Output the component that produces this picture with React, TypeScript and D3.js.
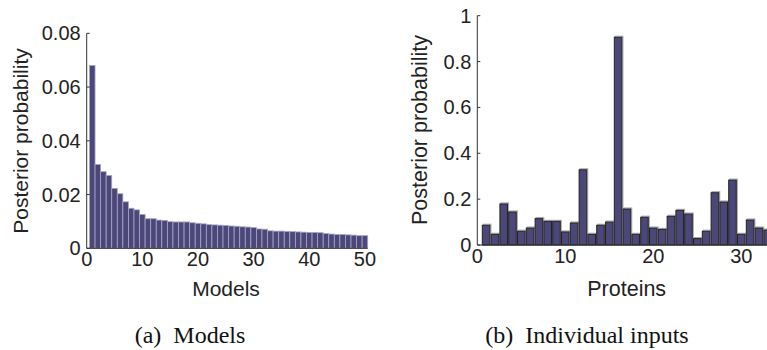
import React, { useRef, useEffect } from "react";
import * as d3 from "d3";

// (a) posterior probability of the top 50 models
const modelIds = d3.range(1, 51);
const modelProb = [
  0.068, 0.0312, 0.0285, 0.0271, 0.0223, 0.0203, 0.0173, 0.0149, 0.0143, 0.0126,
  0.011, 0.011, 0.0105, 0.0104, 0.0099, 0.0098, 0.0098, 0.0098, 0.0095, 0.0093,
  0.0091, 0.0088, 0.0087, 0.0086, 0.0085, 0.0083, 0.0082, 0.008, 0.0079, 0.0077,
  0.0072, 0.0071, 0.0065, 0.0064, 0.0064, 0.0063, 0.0062, 0.0061, 0.006, 0.0059,
  0.0059, 0.0058, 0.0055, 0.0053, 0.0051, 0.0051, 0.005, 0.0049, 0.0047, 0.0047,
];
const modelXTicks = [0, 10, 20, 30, 40, 50];
const modelYTicks = [0, 0.02, 0.04, 0.06, 0.08];

// (b) posterior inclusion probability per protein
const proteinIds = d3.range(1, 34);
const proteinProb = [
  0.086, 0.0465, 0.179, 0.144, 0.06, 0.074, 0.115, 0.103, 0.103, 0.057,
  0.096, 0.328, 0.0465, 0.086, 0.1, 0.906, 0.157, 0.0465, 0.121, 0.074,
  0.068, 0.125, 0.151, 0.135, 0.028, 0.06, 0.228, 0.1875, 0.283, 0.0465,
  0.109, 0.074, 0.065,
];
const proteinXTicks = [0, 10, 20, 30];
const proteinYTicks = [0, 0.2, 0.4, 0.6, 0.8, 1];

const SANS = "'Liberation Sans', Arial, sans-serif";
const SERIF = "'Liberation Serif', 'Times New Roman', serif";
const BAR = "#4b4778";

const App = () => {
  const ref = useRef<SVGSVGElement>(null);

  useEffect(() => {
    const svg = d3.select(ref.current);
    svg.selectAll("*").remove();

    const drawAxes = (g, x, y, xTicks, yTicks, yFmt) => {
      const [x0, x1] = x.range();
      const [y0, y1] = y.range();
      // ticks pointing inward, like matlab
      g.append("g")
        .selectAll("line")
        .data(yTicks)
        .join("line")
        .attr("x1", x0)
        .attr("x2", x0 + 3)
        .attr("y1", (d) => y(d))
        .attr("y2", (d) => y(d))
        .attr("stroke", "#333");
      g.append("g")
        .attr("font-family", SANS)
        .attr("font-size", 20)
        .attr("fill", "#222")
        .attr("text-anchor", "end")
        .selectAll("text")
        .data(yTicks)
        .join("text")
        .attr("x", x0 - 6)
        .attr("y", (d) => y(d) + 7)
        .text(yFmt);
      g.append("g")
        .attr("font-family", SANS)
        .attr("font-size", 20)
        .attr("fill", "#222")
        .attr("text-anchor", "middle")
        .selectAll("text")
        .data(xTicks)
        .join("text")
        .attr("x", (d) => x(d))
        .attr("y", y0 + 18)
        .text((d) => d);
      g.append("line")
        .attr("x1", x0)
        .attr("x2", x0)
        .attr("y1", y0)
        .attr("y2", y1)
        .attr("stroke", "#333");
      g.append("line")
        .attr("x1", x0)
        .attr("x2", x1)
        .attr("y1", y0)
        .attr("y2", y0)
        .attr("stroke", "#333");
    };

    // ---- (a) Models
    const xa = d3.scaleLinear().domain([0, 50.5]).range([86.7, 367.7]);
    const ya = d3.scaleLinear().domain([0, 0.08]).range([248.3, 33.3]);
    const ga = svg.append("g");
    ga.append("g")
      .selectAll("rect")
      .data(modelProb)
      .join("rect")
      .attr("x", (d, i) => xa(modelIds[i] - 0.5))
      .attr("width", xa(1) - xa(0))
      .attr("y", (d) => ya(d))
      .attr("height", (d) => ya(0) - ya(d))
      .attr("fill", BAR)
      .attr("stroke", "#aaa4c8")
      .attr("stroke-width", 0.8);
    drawAxes(ga, xa, ya, modelXTicks, modelYTicks, (d) => (d === 0 ? "0" : d.toFixed(2)));
    ga.append("text")
      .attr("transform", `translate(28,141) rotate(-90)`)
      .attr("text-anchor", "middle")
      .attr("font-family", SANS)
      .attr("font-size", 21)
      .attr("fill", "#222")
      .text("Posterior probability");
    ga.append("text")
      .attr("x", 226)
      .attr("y", 296)
      .attr("text-anchor", "middle")
      .attr("font-family", SANS)
      .attr("font-size", 21)
      .attr("fill", "#222")
      .text("Models");

    // ---- (b) Individual inputs
    const xb = d3.scaleLinear().domain([0, 35]).range([477.3, 477.3 + 35 * 8.8]);
    const yb = d3.scaleLinear().domain([0, 1]).range([245, 15.7]);
    const gb = svg.append("g");
    const bw = (xb(1) - xb(0)) * 0.86;
    // light shadow behind each bar
    gb.append("g")
      .selectAll("rect")
      .data(proteinProb)
      .join("rect")
      .attr("x", (d, i) => xb(proteinIds[i]) - bw / 2 + 1)
      .attr("width", bw)
      .attr("y", (d) => yb(d) - 1)
      .attr("height", (d) => yb(0) - yb(d) + 1)
      .attr("fill", "none")
      .attr("stroke", "#aaa")
      .attr("stroke-width", 1.2);
    gb.append("g")
      .selectAll("rect")
      .data(proteinProb)
      .join("rect")
      .attr("x", (d, i) => xb(proteinIds[i]) - bw / 2)
      .attr("width", bw)
      .attr("y", (d) => yb(d))
      .attr("height", (d) => yb(0) - yb(d))
      .attr("fill", BAR)
      .attr("stroke", "#222")
      .attr("stroke-width", 1);
    drawAxes(gb, xb, yb, proteinXTicks, proteinYTicks, (d) => String(d));
    gb.append("text")
      .attr("transform", `translate(427,130) rotate(-90)`)
      .attr("text-anchor", "middle")
      .attr("font-family", SANS)
      .attr("font-size", 21.5)
      .attr("fill", "#222")
      .text("Posterior probability");
    gb.append("text")
      .attr("x", 626.7)
      .attr("y", 296)
      .attr("text-anchor", "middle")
      .attr("font-family", SANS)
      .attr("font-size", 21.5)
      .attr("fill", "#222")
      .text("Proteins");

    // captions
    svg.append("text")
      .attr("x", 190)
      .attr("y", 343)
      .attr("text-anchor", "middle")
      .attr("font-family", SERIF)
      .attr("font-size", 24)
      .attr("fill", "#111")
      .attr("xml:space", "preserve")
      .text("(a)  Models");
    svg.append("text")
      .attr("x", 587)
      .attr("y", 343)
      .attr("text-anchor", "middle")
      .attr("font-family", SERIF)
      .attr("font-size", 24)
      .attr("fill", "#111")
      .attr("xml:space", "preserve")
      .text("(b)  Individual inputs");
  }, []);

  return (
    <svg
      ref={ref}
      width={767}
      height={350}
      style={{ position: "absolute", left: 0, top: 0, background: "#fff" }}
    ></svg>
  );
};

export default App;
